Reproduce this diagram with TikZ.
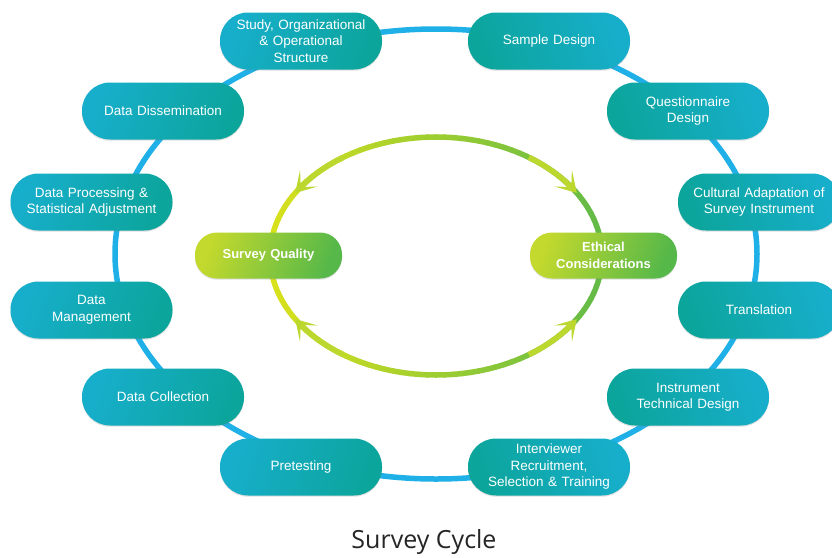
\documentclass[tikz,border=0pt]{standalone}
\usepackage{fontspec}
\setmainfont{Liberation Sans}
\newfontfamily\titlefont{Open Sans}
\usetikzlibrary{arrows.meta,shadows}
\definecolor{ringblue}{HTML}{1EB0E6}
\definecolor{pblue}{HTML}{17AECB}
\definecolor{pteal}{HTML}{0CA59C}
\definecolor{gyel}{HTML}{D8E11C}
\definecolor{ggrn}{HTML}{62BA47}
\definecolor{pyel}{HTML}{C4D92D}
\definecolor{pgrn}{HTML}{56B849}
\definecolor{arrowc}{HTML}{BCD72E}
\begin{document}
\begin{tikzpicture}[x=1pt,y=-1pt,
  pill/.style={rectangle, rounded corners=28pt, minimum width=162pt, minimum height=57pt,
    text width=152pt, align=center, text=white, inner sep=0pt,
    font=\fontsize{13.5}{16.5}\selectfont,
    drop shadow={shadow xshift=0pt, shadow yshift=-1.2pt, opacity=0.25}},
  pillL/.style={pill, left color=pblue, right color=pteal, shading angle=70},
  pillR/.style={pill, left color=pteal, right color=pblue, shading angle=110},
  gpill/.style={rectangle, rounded corners=22pt, minimum width=147pt, minimum height=46pt,
    text width=140pt, align=center, text=white, inner sep=0pt,
    font=\bfseries\fontsize{13}{17}\selectfont,
    left color=pyel, right color=pgrn, shading angle=70,
    drop shadow={shadow xshift=0pt, shadow yshift=-1.2pt, opacity=0.25}},
  ring/.style={line width=5.5pt, draw=ringblue},
  gseg/.style={line width=5.5pt, line cap=round},
  garrow/.style={line width=5.5pt, draw=arrowc, -{Stealth[length=20pt, width=24pt, inset=12pt]}},
]
\fill[white] (0,0) rectangle (832,557);
\useasboundingbox (0,0) rectangle (832,557);

% outer ring
\coordinate (rc) at (436,254);
\draw[ring] (rc) ellipse[x radius=321, y radius=225];

% inner green ring
\coordinate (gc) at (436,256);
\foreach \a in {0,3,...,357}{
  \pgfmathtruncatemacro\p{50+50*cos(\a+1.5)}
  \draw[gseg, draw=ggrn!\p!gyel] plot[domain=\a:\a+3, samples=3, variable=\t]
    ({436+166*cos(\t)},{256+119*sin(\t)});
}
% arrowheads pointing to the two green nodes
\draw[garrow] plot[domain=236:212, samples=8, variable=\t] ({436+166*cos(\t)},{256+119*sin(\t)});
\draw[garrow] plot[domain=304:328, samples=8, variable=\t] ({436+166*cos(\t)},{256+119*sin(\t)});
\draw[garrow] plot[domain=124:148, samples=8, variable=\t] ({436+166*cos(\t)},{256+119*sin(\t)});
\draw[garrow] plot[domain=56:32, samples=8, variable=\t] ({436+166*cos(\t)},{256+119*sin(\t)});

% cycle nodes
\node[pillL] (study) at (301,41) {Study, Organizational\\\& Operational\\Structure};
\node[pillR] (sample) at (549,41) {Sample Design};
\node[pillR] (quest) at (688,111) {Questionnaire\\Design};
\node[pillR] (cult) at (759,202) {Cultural Adaptation of\\Survey Instrument};
\node[pillR] (trans) at (759,310) {Translation};
\node[pillR] (instr) at (688,397) {Instrument\\Technical Design};
\node[pillR] (interv) at (549,467) {Interviewer\\Recruitment,\\Selection \& Training};
\node[pillL] (pretest) at (301,467) {Pretesting};
\node[pillL] (coll) at (163,397) {Data Collection};
\node[pillL] (mgmt) at (91.5,310) {Data\\Management};
\node[pillL] (proc) at (91.5,202) {Data Processing \&\\Statistical Adjustment};
\node[pillL] (diss) at (163,111) {Data Dissemination};

% centre nodes
\node[gpill] (quality) at (268.5,255.5) {Survey Quality};
\node[gpill] (ethics) at (603.5,255.5) {Ethical\\Considerations};

% title
\node[font=\titlefont\fontsize{25}{30}\selectfont, text=black!85, anchor=base, inner sep=0pt] (title) at (424,548) {Survey Cycle};
\end{tikzpicture}
\end{document}
